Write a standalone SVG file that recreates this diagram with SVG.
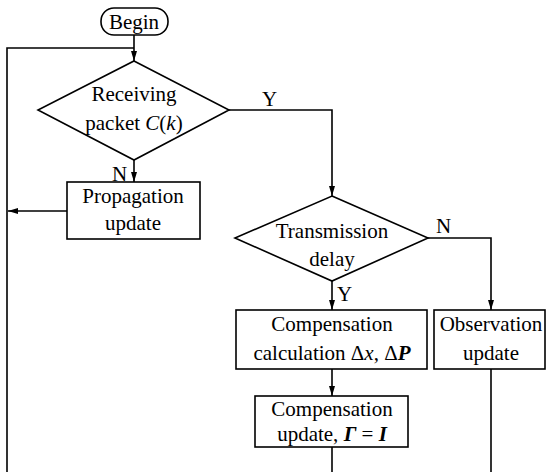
<svg xmlns="http://www.w3.org/2000/svg" width="546" height="472" viewBox="0 0 546 472">
<style>
.s{fill:none;stroke:#000;stroke-width:1.6}
.b{fill:#fff;stroke:#000;stroke-width:1.6}
text{font-family:"Liberation Serif","Times New Roman",serif;font-size:21px;fill:#000;text-anchor:middle}
.l{text-anchor:start}
.i{font-style:italic}
.bi{font-style:italic;font-weight:bold}
</style>
<defs>
<marker id="a" viewBox="0 0 10 6" refX="10" refY="3" markerWidth="10" markerHeight="6" markerUnits="userSpaceOnUse" orient="auto">
<path d="M0,0L10,3L0,6z" fill="#000"/>
</marker>
</defs>
<g id="connectors">
<path class="s" d="M134,35V61" marker-end="url(#a)"/>
<path class="s" d="M7,472V48H134"/>
<path class="s" d="M134,160V182" marker-end="url(#a)"/>
<path class="s" d="M67,211H8" marker-end="url(#a)"/>
<path class="s" d="M229,110H332V196" marker-end="url(#a)"/>
<path class="s" d="M428,238H491V310" marker-end="url(#a)"/>
<path class="s" d="M332,281V310" marker-end="url(#a)"/>
<path class="s" d="M332,369V396" marker-end="url(#a)"/>
<path class="s" d="M332,447V472"/>
<path class="s" d="M491,369V472"/>
<text class="l" x="262" y="106">Y</text>
<text class="l" x="112" y="181">N</text>
<text class="l" x="436" y="233">N</text>
<text class="l" x="337" y="301">Y</text>
</g>
<g id="begin">
<rect class="b" x="101" y="8" width="67" height="27" rx="13"/>
<text x="134" y="29">Begin</text>
</g>
<g id="receiving">
<path class="b" d="M134,61L229,110L134,160L38,110z"/>
<text x="134" y="101">Receiving</text>
<text x="134" y="130">packet <tspan class="i">C</tspan>(<tspan class="i">k</tspan>)</text>
</g>
<g id="propagation">
<rect class="b" x="67" y="182" width="133" height="57"/>
<text x="133" y="203">Propagation</text>
<text x="133" y="230">update</text>
</g>
<g id="transmission">
<path class="b" d="M332,196L428,238L332,281L235,238z"/>
<text x="332" y="238">Transmission</text>
<text x="332" y="266">delay</text>
</g>
<g id="compcalc">
<rect class="b" x="236" y="310" width="191" height="59"/>
<text x="332" y="331">Compensation</text>
<text x="332" y="360">calculation Δ<tspan class="i">x</tspan>, Δ<tspan class="bi">P</tspan></text>
</g>
<g id="observation">
<rect class="b" x="434" y="310" width="111" height="59"/>
<text x="491" y="331">Observation</text>
<text x="491" y="360">update</text>
</g>
<g id="compupdate">
<rect class="b" x="255" y="396" width="153" height="51"/>
<text x="332" y="416">Compensation</text>
<text x="332" y="441">update,  <tspan class="bi">Γ</tspan> = <tspan class="bi">I</tspan></text>
</g>
</svg>
